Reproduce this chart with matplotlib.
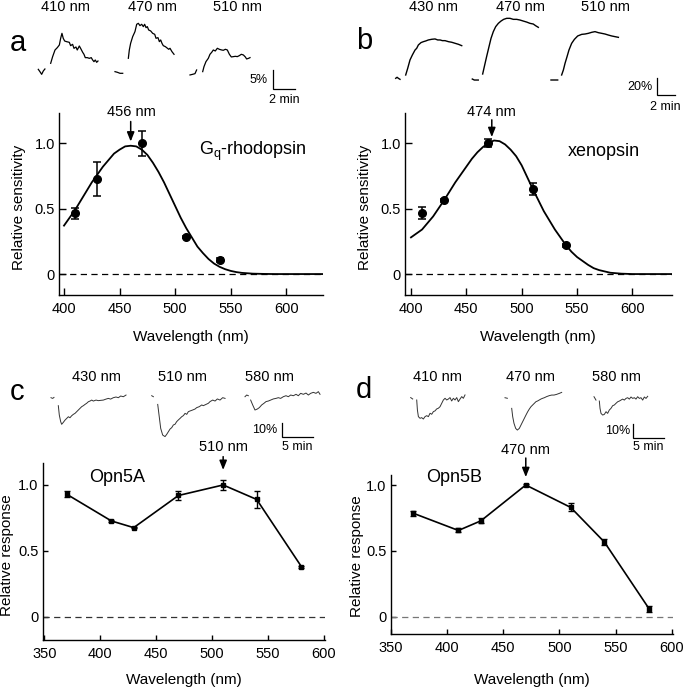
import numpy as np
import matplotlib
matplotlib.use("Agg")
import matplotlib.pyplot as plt

plt.rcParams['font.family'] = ['Liberation Sans', 'DejaVu Sans']
plt.rcParams['mathtext.default'] = 'regular'

nan = np.nan

# ---------------- data: spectral panels ----------------
a_wl = [410, 430, 470, 510, 540]
a_val = [0.464, 0.724, 1.0, 0.283, 0.107]
a_err = [0.042, 0.13, 0.095, 0.01, 0.015]
a_fit_wl = [400, 405, 410, 415, 420, 425, 430, 435, 440, 445, 450, 455, 460, 465, 470, 475,
            480, 485, 490, 495, 500, 505, 510, 515, 520, 525, 530, 535, 540, 545, 550, 555,
            560, 570, 580, 590, 600, 633]
a_fit = [0.37, 0.43, 0.49, 0.56, 0.63, 0.70, 0.76, 0.82, 0.87, 0.92, 0.95, 0.975, 0.98, 0.975,
         0.95, 0.91, 0.85, 0.78, 0.70, 0.61, 0.52, 0.43, 0.35, 0.28, 0.21, 0.16, 0.115, 0.08,
         0.055, 0.037, 0.024, 0.015, 0.009, 0.003, 0.001, 0.0, 0.0, 0.0]

b_wl = [410, 430, 470, 510, 540]
b_val = [0.464, 0.565, 1.0, 0.648, 0.22]
b_err = [0.045, 0.012, 0.028, 0.048, 0.01]
b_fit_wl = [400, 410, 420, 430, 440, 450, 455, 460, 465, 470, 475, 480, 485, 490, 495, 500,
            505, 510, 515, 520, 525, 530, 535, 540, 545, 550, 555, 560, 565, 570, 580, 590,
            600, 635]
b_fit = [0.28, 0.34, 0.44, 0.565, 0.70, 0.82, 0.88, 0.93, 0.97, 1.0, 1.02, 1.015, 0.99, 0.95,
         0.90, 0.83, 0.74, 0.65, 0.565, 0.48, 0.41, 0.34, 0.28, 0.22, 0.17, 0.13, 0.10, 0.07,
         0.045, 0.03, 0.01, 0.003, 0.0, 0.0]

c_wl = [370, 410, 430, 470, 510, 540, 580]
c_val = [0.93, 0.727, 0.676, 0.92, 1.0, 0.89, 0.38]
c_err = [0.025, 0.01, 0.005, 0.035, 0.037, 0.062, 0.008]

d_wl = [370, 410, 430, 470, 510, 540, 580]
d_val = [0.785, 0.655, 0.728, 1.0, 0.83, 0.567, 0.058]
d_err = [0.018, 0.015, 0.02, 0.005, 0.03, 0.025, 0.02]

# ---------------- data: response traces (time in min, response in %) ----------------
A410_t = [0, 0.15, 0.31, 0.46, 0.61, nan, 1.14, 1.32, 1.54, 1.75, 1.94, 2.06, 2.18, 2.30, 2.43,
          2.61, 2.86, 2.98, 3.16, 3.29, 3.47, 3.59, 3.78, 3.90, 4.09, 4.21, 4.33, 4.52, 4.70,
          4.88, 5.01, 5.13, 5.25, 5.38, 5.50]
A410_y = [0.17, -0.43, -1.12, -0.26, 0.26, nan, 1.73, 3.45, 5.18, 5.79, 6.48, 8.2, 9.5, 8.2,
          7.51, 7.34, 7.17, 6.3, 6.65, 5.61, 5.96, 5.18, 6.22, 5.61, 4.58, 4.06, 3.2, 3.2, 3.02,
          3.2, 2.59, 2.16, 2.59, 1.99, 2.33]
A470_t = [0, 0.22, 0.46, 0.71, nan, 1.23, 1.32, 1.44, 1.63, 1.84, 2.0, 2.15, 2.30, 2.46, 2.61,
          2.73, 2.86, 2.98, 3.10, 3.29, 3.47, 3.66, 3.78, 3.96, 4.09, 4.21, 4.33, 4.45, 4.64,
          4.76, 4.95, 5.07, 5.25, 5.44]
A470_y = [0.17, 0, -0.26, -0.26, nan, 3.63, 5.79, 7.51, 9.24, 10.54, 12.44, 12.69, 12.09, 12.44,
          11.83, 12.44, 11.57, 11.83, 10.97, 10.71, 10.1, 9.84, 8.81, 8.98, 7.94, 8.38, 7.51,
          6.9, 6.65, 6.39, 5.96, 6.22, 5.35, 4.66]
A510_t = [0, 0.25, 0.46, 0.61, nan, 1.17, 1.29, 1.47, 1.69, 1.84, 2.0, 2.15, 2.33, 2.52, 2.70,
          2.92, 3.07, 3.26, 3.44, 3.63, 3.81, 4.0, 4.18, 4.36, 4.55, 4.73, 4.92, 5.10, 5.22,
          5.41, 5.53]
A510_y = [-0.17, 0, 0.17, 1.12, nan, 0.69, 1.99, 3.28, 4.15, 5.18, 5.7, 6.3, 6.04, 6.74, 6.48,
          6.3, 6.22, 6.48, 6.3, 5.18, 4.49, 4.58, 4.66, 4.58, 4.84, 5.18, 5.01, 4.49, 3.97,
          4.15, 4.32]

B430_t = [0, 0.15, 0.29, 0.47, nan, 1.09, 1.31, 1.56, 1.82, 2.11, 2.29, 2.47, 2.76, 3.02, 3.27,
          3.56, 3.93, 4.29, 4.58, 4.84, 5.09, 5.38, 5.75, 6.11, 6.47, 6.84, 7.2]
B430_y = [0, 1.2, 0, -1.2, nan, 3.9, 11.8, 21.6, 27.5, 33.3, 35.3, 39.2, 42.0, 43.1, 43.9, 45.1,
          45.9, 46.3, 45.1, 45.1, 44.3, 44.3, 43.1, 42.4, 41.2, 40.0, 38.4]
B470_t = [0, 0.22, 0.47, 0.65, nan, 1.13, 1.31, 1.56, 1.82, 2.04, 2.29, 2.55, 2.84, 3.13, 3.42,
          3.75, 4.11, 4.47, 4.84, 5.2, 5.56, 5.93, 6.29, 6.65, 6.91, 7.2]
B470_y = [0.8, -0.4, -0.4, -0.4, nan, 6.7, 15.3, 27.1, 38.8, 48.6, 56.5, 62.4, 66.3, 69.0, 71.0,
          72.2, 72.2, 71.0, 71.0, 70.2, 69.0, 67.8, 66.3, 65.5, 63.5, 61.6]
B510_t = [0, 0.73, nan, 1.16, 1.35, 1.53, 1.75, 1.96, 2.25, 2.55, 2.91, 3.35, 3.71, 4.07, 4.44,
          4.8, 5.16, 5.53, 5.89, 6.25, 6.62, 6.98, 7.35]
B510_y = [0, 0, nan, 5.9, 11.8, 19.6, 27.5, 35.3, 43.1, 47.8, 51.8, 53.7, 54.1, 54.9, 56.1, 56.9,
          55.7, 54.9, 54.1, 52.9, 51.8, 51.0, 50.2]

C430_t = [0, 0.27, 0.48, nan, 1.18, 1.34, 1.56, 1.72, 1.99, 2.26, 2.53, 2.80, 3.06, 3.33, 3.60,
          3.87, 4.14, 4.41, 4.68, 4.95, 5.22, 5.48, 5.75, 6.02, 6.29, 6.56, 6.83, 7.26, 7.63,
          8.01, 8.44, 8.87, 9.25, 9.62, 10.05, 10.48, 10.86, 11.24, 11.67, 12.10]
C430_y = [0, -0.5, 0.2, nan, -5.7, -12.4, -17.1, -19.0, -17.6, -16.0, -14.8, -13.6, -14.3, -12.9,
          -11.9, -11.2, -10.0, -8.8, -7.6, -6.4, -5.7, -4.8, -4.0, -2.9, -2.4, -1.7, -2.4, -1.7,
          -2.1, -1.9, -1.7, -1.0, -0.5, -1.0, 0, 0.5, 0, 1.2, 0.7, 1.9]
C510_t = [0, 0.27, nan, 0.97, 1.45, 1.77, 2.15, 2.42, 2.69, 2.96, 3.23, 3.49, 3.76, 4.03, 4.30,
          4.57, 4.84, 5.11, 5.38, 5.65, 5.91, 6.18, 6.61, 6.99, 7.26, 7.69, 8.06, 8.33, 8.76,
          9.14, 9.41, 9.84, 10.22, 10.59, 11.02, 11.45, 11.83]
C510_y = [0.2, -0.5, nan, -6.0, -23.1, -27.9, -29.0, -27.4, -25.5, -23.6, -22.6, -20.7, -20.2,
          -18.3, -17.1, -16.0, -14.8, -14.0, -12.4, -13.1, -11.2, -10.7, -10.0, -9.3, -8.3,
          -7.6, -6.4, -6.9, -6.0, -5.2, -4.0, -2.9, -3.6, -2.1, -2.9, -1.2, -1.7]
C580_t = [0, 0.27, 0.54, nan, 0.91, 1.24, 1.61, 1.99, 2.31, 2.69, 3.06, 3.39, 3.76, 4.14, 4.57,
          5.0, 5.38, 5.75, 6.18, 6.61, 6.99, 7.37, 7.80, 8.23, 8.60, 8.98, 9.41, 9.84, 10.22,
          10.59, 11.02, 11.45, 11.83, 12.10]
C580_y = [-0.5, 0.7, 0.2, nan, -2.9, -6.4, -10.0, -9.3, -8.3, -6.4, -5.2, -4.0, -3.6, -2.9, -2.1,
          -1.7, -1.2, -1.7, -0.5, 0.2, -0.5, 0.7, 0.2, 1.2, 0.2, 1.9, 1.2, 2.1, 0.7, 1.9, 2.6,
          1.9, 3.1, 1.2]

D410_t = [0, 0.32, nan, 0.97, 1.08, 1.24, 1.51, 1.77, 2.04, 2.31, 2.58, 2.85, 3.12, 3.39, 3.66,
          3.92, 4.19, 4.46, 4.73, 5.0, 5.27, 5.54, 5.81, 6.08, 6.34, 6.61, 6.88, 7.15, 7.42,
          7.69, 7.96, 8.23, 8.49, 8.76]
D410_y = [0.5, -0.5, nan, -1.2, -8.3, -13.1, -14.3, -13.8, -14.8, -13.1, -12.4, -13.1, -10.7,
          -11.4, -9.5, -9.0, -7.6, -7.1, -6.0, -3.6, -1.2, 0, -1.2, -0.5, 0.5, -1.9, 0, -1.2,
          0.5, -2.4, -0.5, 1.2, 0, 2.4]
D470_t = [0, 0.38, nan, 1.08, 1.24, 1.45, 1.72, 1.99, 2.31, 2.58, 2.85, 3.12, 3.39, 3.66, 3.92,
          4.19, 4.46, 4.73, 5.0, 5.27, 5.54, 5.81, 6.08, 6.34, 6.72, 7.15, 7.53, 7.90, 8.33,
          8.76, 9.14]
D470_y = [0.2, -0.2, nan, -7.4, -13.3, -18.1, -21.7, -22.9, -21.7, -19.3, -16.9, -14.5, -12.1,
          -9.8, -7.9, -6.2, -5.0, -3.8, -2.6, -2.1, -1.4, -0.7, -0.2, 0.2, 1.0, 1.7, 2.1, 2.1,
          2.6, 3.3, 4.0]
D580_t = [0, 0.16, 0.32, nan, 0.86, 0.97, 1.13, 1.40, 1.67, 1.94, 2.20, 2.47, 2.74, 3.01, 3.28,
          3.55, 3.82, 4.09, 4.35, 4.62, 4.89, 5.16, 5.43, 5.70, 5.97, 6.24, 6.51, 6.77, 7.04,
          7.31, 7.58, 7.85, 8.12, 8.39, 8.66]
D580_y = [0.7, -0.5, -1.7, nan, -2.4, -7.6, -11.2, -12.4, -11.9, -10.0, -11.2, -8.8, -7.6, -5.7,
          -5.2, -4.0, -2.9, -2.4, -1.7, -1.0, -1.7, -0.5, 0, -1.0, 0.5, -0.5, 0, -1.0, 0.7,
          -0.5, 0, -1.7, 0.5, -0.5, 1.0]

trace_titles_a = ['410 nm', '470 nm', '510 nm']
trace_titles_b = ['430 nm', '470 nm', '510 nm']
trace_titles_c = ['430 nm', '510 nm', '580 nm']
trace_titles_d = ['410 nm', '470 nm', '580 nm']

# ---------------- figure ----------------
W, H = 685, 689
fig = plt.figure(figsize=(W / 100, H / 100), dpi=100)


def add_ax_px(x0, x1, ytop, ybot):
    return fig.add_axes([x0 / W, 1 - ybot / H, (x1 - x0) / W, (ybot - ytop) / H])


def ftext(x, y, s, **kw):
    return fig.text(x / W, 1 - y / H, s, **kw)


def trace_ax(x0, y0, ppm, ppp, tlim, ylim):
    left = x0 + tlim[0] * ppm
    right = x0 + tlim[1] * ppm
    top = y0 - ylim[1] * ppp
    bot = y0 - ylim[0] * ppp
    ax = add_ax_px(left, right, top, bot)
    ax.set_xlim(tlim)
    ax.set_ylim(ylim)
    ax.axis('off')
    return ax


def draw_trace(x0, y0, ppm, ppp, t, y, color='black', lw=0.8):
    t = np.array(t, dtype=float)
    y = np.array(y, dtype=float)
    ax = trace_ax(x0, y0, ppm, ppp, (-0.5, np.nanmax(t) + 0.5),
                  (np.nanmin(y) - 2, np.nanmax(y) + 2))
    ax.plot(t, y, color=color, lw=lw, clip_on=False)


def scale_bar(x0, y0, ppm, ppp, pct, minutes, pct_label, min_label, pct_pos, min_pos, fs=9):
    ax = trace_ax(x0, y0, ppm, ppp, (-0.5, minutes + 0.5), (-1, pct + 1))
    ax.plot([0, 0, minutes], [pct, 0, 0], color='black', lw=0.9, clip_on=False,
            solid_joinstyle='miter')
    ftext(pct_pos[0], pct_pos[1], pct_label, ha='right', va='center', fontsize=fs)
    ftext(min_pos[0], min_pos[1], min_label, ha='center', va='center', fontsize=fs)
    return ax


def style_main(ax, xlim, ylim, xticks, ticklen):
    for s in ['top', 'right']:
        ax.spines[s].set_visible(False)
    for s in ['left', 'bottom']:
        ax.spines[s].set_linewidth(1.0)
    ax.set_xlim(xlim)
    ax.set_ylim(ylim)
    ax.set_xticks(xticks)
    ax.set_yticks([0, 0.5, 1.0])
    ax.set_yticklabels(['0', '0.5', '1.0'])
    ax.tick_params(direction='in', length=ticklen, width=1.0, labelsize=10.5)
    ax.tick_params(axis='x', pad=5)
    ax.tick_params(axis='y', pad=3)


arrow_kw = dict(arrowstyle='-|>,head_length=0.55,head_width=0.22', color='black', lw=1.1,
                shrinkA=0, shrinkB=0)

# ---------------- panel a ----------------
ax_a = add_ax_px(59, 323, 113, 295)
style_main(ax_a, (395.5, 633), (-0.16, 1.23), [400, 450, 500, 550, 600], 5)
ax_a.axhline(0, color='black', lw=0.9, ls=(0, (5, 3.5)))
ax_a.plot(a_fit_wl, a_fit, color='black', lw=1.3)
ax_a.errorbar(a_wl, a_val, yerr=a_err, fmt='o', color='black', ms=5.5, capsize=3,
              elinewidth=1.1, capthick=1.1)
ax_a.annotate('', xy=(460, 1.012), xytext=(460, 1.165), arrowprops=arrow_kw,
              annotation_clip=False)
ax_a.text(461, 1.234, '456 nm', ha='center', va='center', fontsize=10.5, clip_on=False)
ax_a.set_xlabel('Wavelength (nm)', fontsize=11)
ax_a.set_ylabel('Relative sensitivity', fontsize=11)
ax_a.xaxis.set_label_coords(0.5, -0.19)
ax_a.yaxis.set_label_coords(-0.125, 0.48)
ftext(199, 151, 'G$_{q}$-rhodopsin', ha='left', va='center', fontsize=13)

# ---------------- panel b ----------------
ax_b = add_ax_px(405, 671.7, 113, 295)
style_main(ax_b, (394.6, 635.5), (-0.16, 1.23), [400, 450, 500, 550, 600], 5)
ax_b.axhline(0, color='black', lw=0.9, ls=(0, (5, 3.5)))
ax_b.plot(b_fit_wl, b_fit, color='black', lw=1.3)
ax_b.errorbar(b_wl, b_val, yerr=b_err, fmt='o', color='black', ms=5.5, capsize=3,
              elinewidth=1.1, capthick=1.1)
ax_b.annotate('', xy=(473, 1.046), xytext=(473, 1.178), arrowprops=arrow_kw,
              annotation_clip=False)
ax_b.text(473, 1.234, '474 nm', ha='center', va='center', fontsize=10.5, clip_on=False)
ax_b.set_xlabel('Wavelength (nm)', fontsize=11)
ax_b.set_ylabel('Relative sensitivity', fontsize=11)
ax_b.xaxis.set_label_coords(0.5, -0.19)
ax_b.yaxis.set_label_coords(-0.125, 0.48)
ftext(568, 151, 'xenopsin', ha='left', va='center', fontsize=13)

# ---------------- panel c ----------------
ax_c = add_ax_px(42.7, 325, 462.7, 640)
style_main(ax_c, (348.6, 601.1), (-0.177, 1.169), [350, 400, 450, 500, 550, 600], 3.5)
ax_c.axhline(0, color='#333333', lw=0.9, ls=(0, (5, 3.5)))
ax_c.errorbar(c_wl, c_val, yerr=c_err, fmt='-s', color='black', ms=2.8, lw=1.2,
              capsize=2, elinewidth=1.0, capthick=1.0)
ax_c.annotate('', xy=(510, 1.114), xytext=(510, 1.215), arrowprops=arrow_kw,
              annotation_clip=False)
ax_c.text(510, 1.29, '510 nm', ha='center', va='center', fontsize=10.5, clip_on=False)
ax_c.set_xlabel('Wavelength (nm)', fontsize=11)
ax_c.set_ylabel('Relative response', fontsize=11)
ax_c.xaxis.set_label_coords(0.5, -0.186)
ax_c.yaxis.set_label_coords(-0.102, 0.476)
ftext(89, 478, 'Opn5A', ha='left', va='center', fontsize=13)

# ---------------- panel d ----------------
ax_d = add_ax_px(390.7, 673, 475, 634)
style_main(ax_d, (349.7, 601.1), (-0.131, 1.076), [350, 400, 450, 500, 550, 600], 3.5)
ax_d.axhline(0, color='#777777', lw=0.9, ls=(0, (5, 3.5)))
ax_d.errorbar(d_wl, d_val, yerr=d_err, fmt='-s', color='black', ms=2.8, lw=1.2,
              capsize=2, elinewidth=1.0, capthick=1.0)
ax_d.annotate('', xy=(470, 1.06), xytext=(470, 1.205), arrowprops=arrow_kw,
              annotation_clip=False)
ax_d.text(470, 1.266, '470 nm', ha='center', va='center', fontsize=10.5, clip_on=False)
ax_d.set_xlabel('Wavelength (nm)', fontsize=11)
ax_d.set_ylabel('Relative response', fontsize=11)
ax_d.xaxis.set_label_coords(0.5, -0.245)
ax_d.yaxis.set_label_coords(-0.095, 0.49)
ftext(426, 478, 'Opn5B', ha='left', va='center', fontsize=13)

# ---------------- traces ----------------
# panel a
ppm_a, ppp_a = 10.85, 3.86
for (x0, y0), t, y in zip([(38.3, 70), (115, 72.3), (190, 74.3)],
                          [A410_t, A470_t, A510_t], [A410_y, A470_y, A510_y]):
    draw_trace(x0, y0, ppm_a, ppp_a, t, y, lw=0.9)
scale_bar(273.3, 89.3, ppm_a, ppp_a, 5, 2, '5%', '2 min', (268, 80), (284, 100))
for xc, s in zip([65.7, 152.7, 237.7], trace_titles_a):
    ftext(xc, 7, s, ha='center', va='center', fontsize=10.5)

# panel b
ppm_b, ppp_b = 9.17, 0.85
for (x0, y0), t, y in zip([(395.7, 78.3), (472.3, 79.7), (551, 80)],
                          [B430_t, B470_t, B510_t], [B430_y, B470_y, B510_y]):
    draw_trace(x0, y0, ppm_b, ppp_b, t, y, lw=1.0)
scale_bar(656.7, 95, ppm_b, ppp_b, 20, 2, '20%', '2 min', (653, 87), (665, 107))
for xc, s in zip([433.3, 520, 605.7], trace_titles_b):
    ftext(xc, 7, s, ha='center', va='center', fontsize=10.5)

# panel c
ppm_c, ppp_c = 6.2, 1.4
for (x0, y0), t, y in zip([(51, 397.7), (151.7, 396), (245, 396)],
                          [C430_t, C510_t, C580_t], [C430_y, C510_y, C580_y]):
    draw_trace(x0, y0, ppm_c, ppp_c, t, y, color='#333333', lw=0.7)
scale_bar(281.7, 437, ppm_c, ppp_c, 10, 5, '10%', '5 min', (277, 430), (297, 447))
for xc, s in zip([96, 182.7, 269.3], trace_titles_c):
    ftext(xc, 377, s, ha='center', va='center', fontsize=10.5)

# panel d
ppm_d, ppp_d = 6.2, 1.4
for (x0, y0), t, y in zip([(410.7, 398.3), (505, 398), (594, 397.7)],
                          [D410_t, D470_t, D580_t], [D410_y, D470_y, D580_y]):
    draw_trace(x0, y0, ppm_d, ppp_d, t, y, color='#333333', lw=0.7)
scale_bar(632.7, 438, ppm_d, ppp_d, 10, 5, '10%', '5 min', (630, 431), (648, 447))
for xc, s in zip([437.3, 530.7, 616.7], trace_titles_d):
    ftext(xc, 377, s, ha='center', va='center', fontsize=10.5)

# ---------------- panel letters ----------------
for x, y, s in [(18, 43, 'a'), (364, 41, 'b'), (17, 392, 'c'), (364, 390, 'd')]:
    ftext(x, y, s, ha='center', va='center', fontsize=21)

fig.savefig('out.png', dpi=100)
